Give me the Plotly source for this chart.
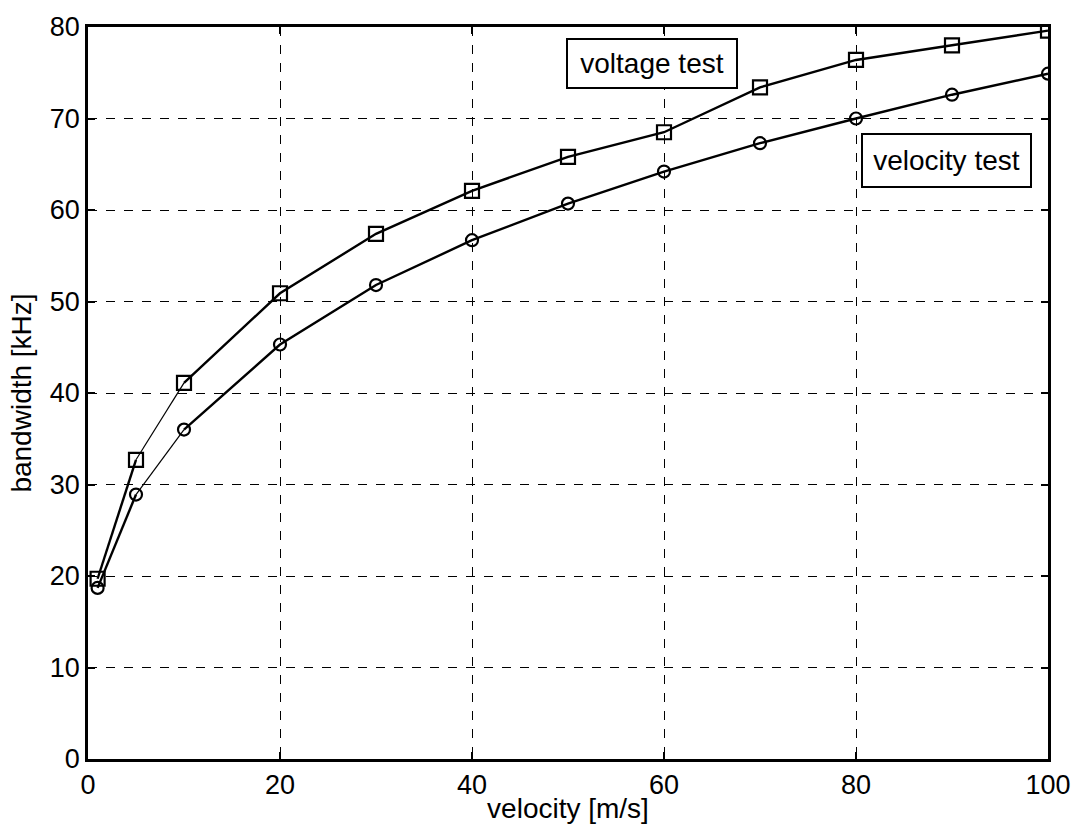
import plotly.graph_objects as go

velocity = [1, 5, 10, 20, 30, 40, 50, 60, 70, 80, 90, 100]
voltage_test = [19.7, 32.7, 41.1, 50.9, 57.4, 62.1, 65.8, 68.5, 73.4, 76.4, 78.0, 79.6]
velocity_test = [18.7, 28.9, 36.0, 45.3, 51.8, 56.7, 60.7, 64.2, 67.3, 70.0, 72.6, 74.9]
x_ticks = [0, 20, 40, 60, 80, 100]
y_ticks = [0, 10, 20, 30, 40, 50, 60, 70, 80]

FONT = "Liberation Sans, Arial, sans-serif"
fig = go.Figure()

def add_series(y, symbol, size):
    # thick segments (gap between 2nd and 3rd point), thin segment 5->10
    xs = velocity[:2] + [None] + velocity[2:]
    ys = y[:2] + [None] + y[2:]
    fig.add_trace(go.Scatter(x=xs, y=ys, mode="lines", line=dict(color="black", width=2.4),
                             connectgaps=False, showlegend=False, hoverinfo="skip"))
    fig.add_trace(go.Scatter(x=velocity[1:3], y=y[1:3], mode="lines",
                             line=dict(color="black", width=1.2), showlegend=False, hoverinfo="skip"))
    fig.add_trace(go.Scatter(x=velocity, y=y, mode="markers",
                             marker=dict(symbol=symbol, size=size, color="black",
                                         line=dict(color="black", width=2.2)),
                             showlegend=False))

add_series(voltage_test, "square-open", 14)
add_series(velocity_test, "circle-open", 12)

fig.add_annotation(x=58.7, y=76.0, xref="x", yref="y", text="voltage test", showarrow=False,
                   font=dict(family=FONT, size=28, color="black"), bordercolor="black",
                   borderwidth=2, borderpad=3, width=162, height=41, bgcolor="white")
fig.add_annotation(x=89.4, y=65.4, xref="x", yref="y", text="velocity test", showarrow=False,
                   font=dict(family=FONT, size=28, color="black"), bordercolor="black",
                   borderwidth=2, borderpad=3, width=161, height=45, bgcolor="white")

axis_common = dict(showline=True, linecolor="black", linewidth=2.5, mirror="allticks",
                   ticks="inside", ticklen=7, tickwidth=2, tickcolor="black",
                   showgrid=True, gridcolor="black", gridwidth=1, griddash="dash",
                   zeroline=False, tickfont=dict(family=FONT, size=27, color="black"))

fig.update_xaxes(range=[0, 100], tickvals=x_ticks, ticktext=[str(v) for v in x_ticks],
                 title=dict(text="velocity [m/s]", font=dict(family=FONT, size=28, color="black"), standoff=0),
                 **axis_common)
fig.update_yaxes(range=[0, 80], tickvals=y_ticks, ticktext=[str(v) for v in y_ticks],
                 title=dict(text="bandwidth [kHz]", font=dict(family=FONT, size=28, color="black"), standoff=11),
                 **axis_common)

fig.update_layout(width=1083, height=832, margin=dict(l=88, r=33, t=22, b=73),
                  plot_bgcolor="white", paper_bgcolor="white", font=dict(family=FONT))

fig.write_html("out.html")
